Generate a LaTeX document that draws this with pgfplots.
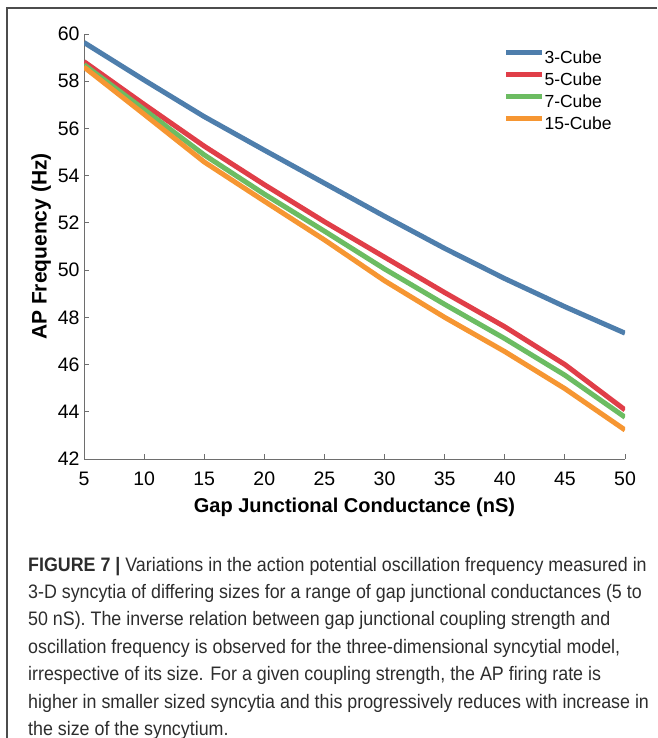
\documentclass[border=0pt]{standalone}
\usepackage{fontspec}
\setmainfont{Liberation Sans}
\newfontfamily\capfont[FakeStretch=0.915]{Liberation Sans}
\usepackage{pgfplots}
\pgfplotsset{compat=1.18}
\definecolor{cblue}{RGB}{78,126,172}
\definecolor{cred}{RGB}{224,62,72}
\definecolor{cgreen}{RGB}{108,188,98}
\definecolor{corange}{RGB}{246,150,50}
\definecolor{axgray}{RGB}{110,110,110}
\definecolor{captxt}{RGB}{45,45,45}
\begin{document}
\begin{tikzpicture}[x=1pt,y=1pt]
\useasboundingbox (0,0) rectangle (657,-738);
\draw[line width=1.6pt, black!70] (657,-8) -- (7,-8) -- (7,-738);
\begin{axis}[
  at={(84pt,-459pt)}, anchor=south west,
  scale only axis, width=541pt, height=425pt,
  xmin=5, xmax=50, ymin=42, ymax=60,
  xtick={5,10,...,50}, ytick={42,44,...,60},
  axis lines=left, axis line style={-, axgray, line width=1pt},
  tick align=inside, major tick length=5pt,
  tick style={axgray, line width=0.8pt},
  /pgf/number format/assume math mode=true,
  ticklabel style={font=\fontsize{19.5}{19.5}\selectfont},
  xticklabel style={anchor=base, yshift=-26pt},
  yticklabel style={anchor=east, xshift=-1pt},
  xlabel={\textbf{Gap Junctional Conductance (nS)}},
  ylabel={\textbf{AP Frequency (Hz)}},
  x label style={at={(axis description cs:0.5,-0.126)}, anchor=base, font=\fontsize{20}{20}\selectfont},
  y label style={at={(axis description cs:-0.069,0.5)}, anchor=base, font=\fontsize{21}{21}\selectfont},
  legend style={draw=none, fill=none, at={(axis description cs:0.7755,0.962)}, anchor=north west,
    inner sep=0pt, outer sep=0pt, row sep=5pt,
    font=\fontsize{17.5}{17.5}\selectfont,
    nodes={inner sep=0pt, text height=13pt, text depth=4pt}},
  legend cell align=left,
  /tikz/every even column/.append style={column sep=3pt},
  legend image code/.code={\draw[#1, line width=5pt] (0pt,6pt) -- (36pt,6pt);},
  every axis plot/.append style={line width=5pt, line join=round, no markers},
]
\addplot[cblue] coordinates {(5,59.64) (10,58.05) (15,56.50) (20,55.08) (25,53.68) (30,52.28) (35,50.92) (40,49.64) (45,48.45) (50,47.33)};
\addlegendentry{3-Cube}
\addplot[cred] coordinates {(5,58.83) (10,57.02) (15,55.25) (20,53.62) (25,52.05) (30,50.55) (35,49.05) (40,47.60) (45,46.00) (50,44.08)};
\addlegendentry{5-Cube}
\addplot[cgreen] coordinates {(5,58.70) (10,56.80) (15,54.88) (20,53.22) (25,51.65) (30,50.05) (35,48.55) (40,47.10) (45,45.55) (50,43.77)};
\addlegendentry{7-Cube}
\addplot[corange] coordinates {(5,58.60) (10,56.60) (15,54.58) (20,52.92) (25,51.28) (30,49.55) (35,48.00) (40,46.55) (45,44.98) (50,43.23)};
\addlegendentry{15-Cube}
\end{axis}
\begin{scope}[every node/.style={anchor=base west, inner sep=0pt, text=captxt, font=\capfont\fontsize{19.5}{19.5}\selectfont}]
\node at (28,-571) {\textbf{FIGURE 7 |} Variations in the action potential oscillation frequency measured in};
\node at (28,-598.4) {3-D syncytia of differing sizes for a range of gap junctional conductances (5 to};
\node at (28,-625.8) {50 nS). The inverse relation between gap junctional coupling strength and};
\node at (28,-653.2) {oscillation frequency is observed for the three-dimensional syncytial model,};
\node at (28,-680.6) {irrespective of its size. For a given coupling strength, the AP firing rate is};
\node at (28,-708) {higher in smaller sized syncytia and this progressively reduces with increase in};
\node at (28,-735.4) {the size of the syncytium.};
\end{scope}
\end{tikzpicture}
\end{document}
